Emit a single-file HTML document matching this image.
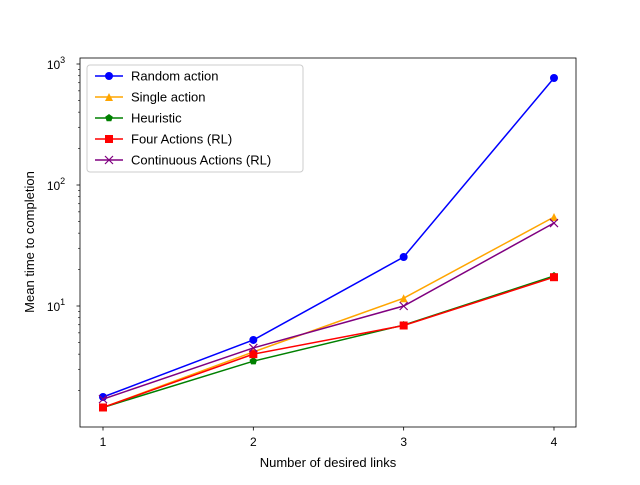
<!DOCTYPE html>
<html><head><meta charset="utf-8"><style>
body{margin:0;background:#fff}
svg{font-family:"Liberation Sans","DejaVu Sans",sans-serif}
</style></head><body>
<svg id="chart" width="640" height="480" viewBox="0 0 640 480">
<rect width="640" height="480" fill="#fff"/>
<g id="marks"></g>
<rect x="80" y="58" width="496" height="369" fill="none" stroke="#000" stroke-width="0.8"/>
<g id="axes"></g>
<text x="328" y="467" font-size="13" text-anchor="middle">Number of desired links</text>
<text transform="translate(34,242) rotate(-90)" font-size="13" text-anchor="middle">Mean time to completion</text>
<g id="legend"></g>
</svg>
<script>
const categories=[1,2,3,4];
const seriesNames=["Random action","Single action","Heuristic","Four Actions (RL)","Continuous Actions (RL)"];
const randomVals=[1.77,5.24,25.4,766];
const singleVals=[1.45,4.17,11.6,54.4];
const heuristicVals=[1.45,3.5,6.96,17.7];
const fourVals=[1.45,4.0,6.9,17.3];
const contVals=[1.7,4.5,10.0,48.5];
const yTickExps=[1,2,3];
const colors=["#0000ff","#ffa500","#008000","#ff0000","#800080"];
const markers=["o","^","p","s","x"];
const allVals=[randomVals,singleVals,heuristicVals,fourVals,contVals];
const NS="http://www.w3.org/2000/svg";
function X(v){return 103+(v-1)*150.33;}
function Y(v){return 427-Math.log10(v)*121;}
function mk(tag,attrs,parent){const e=document.createElementNS(NS,tag);for(const k in attrs)e.setAttribute(k,attrs[k]);parent.appendChild(e);return e;}
const axes=document.getElementById('axes'),marks=document.getElementById('marks'),leg=document.getElementById('legend');
categories.forEach(c=>{
 const t=mk('line',{x1:X(c),x2:X(c),y1:427,y2:430.5,stroke:'#000','stroke-width':0.8},axes);
 
 
 const l=mk('text',{x:X(c),y:446,'font-size':12,'text-anchor':'middle'},axes);l.textContent=c;
 
 
});
yTickExps.forEach(e=>{
 const y=Y(Math.pow(10,e));
 mk('line',{x1:76.5,x2:80,y1:y,y2:y,stroke:'#000','stroke-width':0.8},axes);
 const l=mk('text',{x:56,y:y+5,'font-size':12,'text-anchor':'middle'},axes);
 l.innerHTML='10<tspan dy="-6" font-size="9">'+e+'</tspan>';
 
 
});
for(let d=0;d<3;d++)for(let m=2;m<10;m++){const v=m*Math.pow(10,d);const y=Y(v);if(y<58)continue;
 mk('line',{x1:78,x2:80,y1:y,y2:y,stroke:'#000','stroke-width':0.6},axes);}
function marker(type,x,y,col,parent){
 const s=4;
 if(type==='o')return mk('circle',{cx:x,cy:y,r:s,fill:col},parent);
 if(type==='s')return mk('rect',{x:x-s,y:y-s,width:2*s,height:2*s,fill:col},parent);
 if(type==='^')return mk('polygon',{points:`${x},${y-s} ${x-s},${y+s} ${x+s},${y+s}`,fill:col},parent);
 if(type==='p'){let p=[];for(let i=0;i<5;i++){const a=-Math.PI/2+i*2*Math.PI/5;p.push((x+s*Math.cos(a))+','+(y+s*Math.sin(a)));}return mk('polygon',{points:p.join(' '),fill:col},parent);}
 const g=mk('g',{},parent);
 mk('line',{x1:x-s,y1:y-s,x2:x+s,y2:y+s,stroke:col,'stroke-width':1.2},g);
 mk('line',{x1:x-s,y1:y+s,x2:x+s,y2:y-s,stroke:col,'stroke-width':1.2},g);return g;
}
allVals.forEach((vals,i)=>{
 const pl=mk('polyline',{points:vals.map((v,j)=>X(categories[j])+','+Y(v)).join(' '),fill:'none',stroke:colors[i],'stroke-width':1.5},marks);
 
 
 vals.forEach((v,j)=>{const m=marker(markers[i],X(categories[j]),Y(v),colors[i],marks);
  
  });
});
const box=mk('rect',{x:87,y:65,width:216,height:107,rx:3,fill:'#fff','fill-opacity':0.8,stroke:'#ccc'},leg);


seriesNames.forEach((n,i)=>{
 const y=76+i*21;
 mk('line',{x1:95,x2:123,y1:y,y2:y,stroke:colors[i],'stroke-width':1.5},leg);
 marker(markers[i],109,y,colors[i],leg);
 const t=mk('text',{x:131,y:y+4.5,'font-size':13},leg);t.textContent=n;
 
 
});
</script>
</body></html>
